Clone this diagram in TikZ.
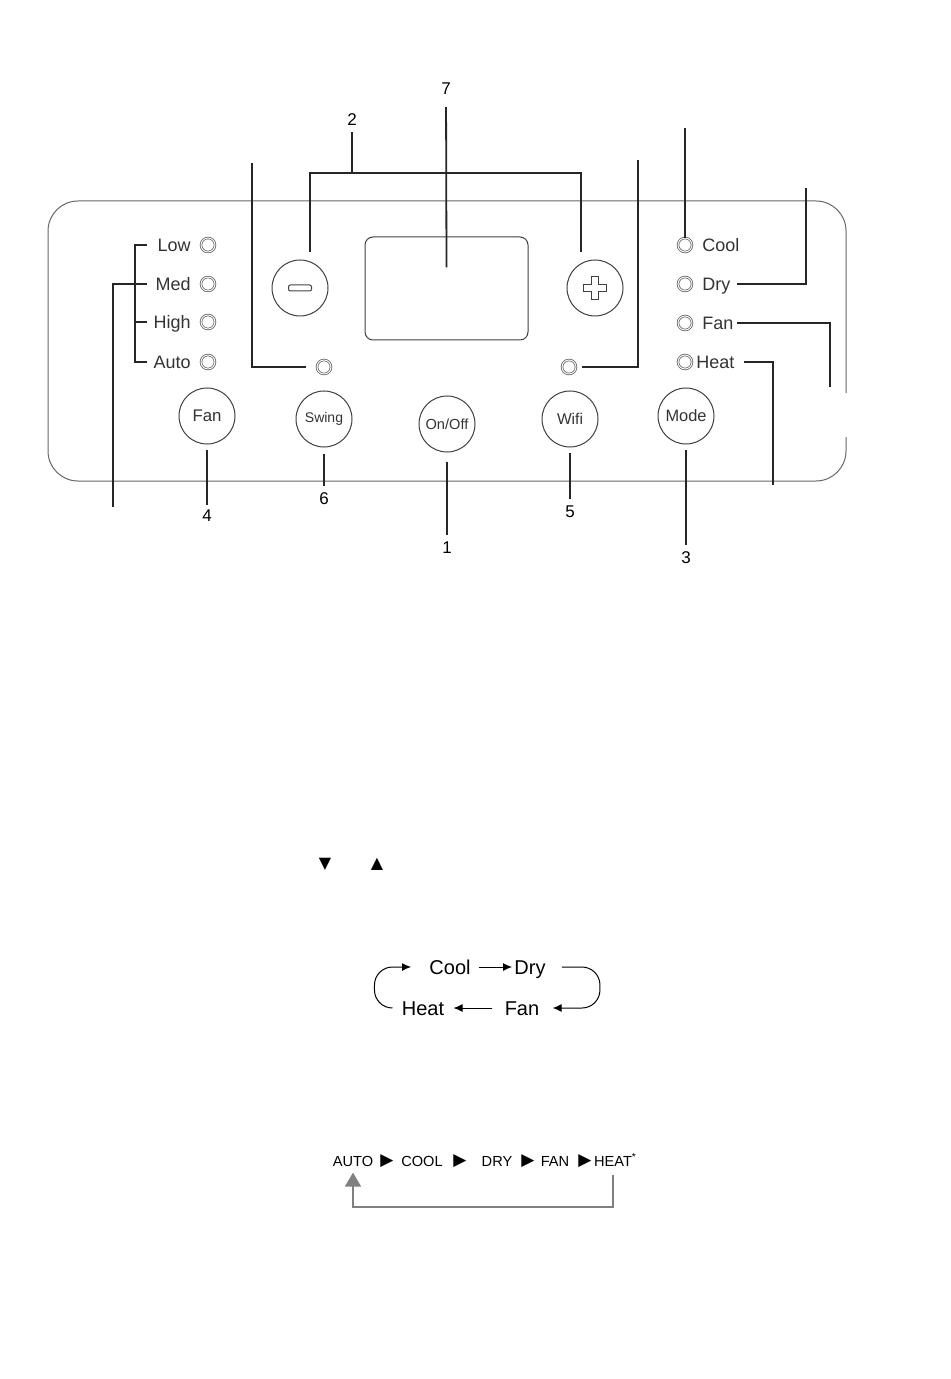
\documentclass[tikz,border=0pt]{standalone}
\usepackage{fontspec}
\setmainfont{Liberation Sans}
\newfontfamily\symfont{DejaVu Sans}
\usetikzlibrary{calc, arrows.meta}
\tikzstyle{panel}    = [draw=black!60, line width=0.5pt]
\tikzstyle{leader}   = [line width=0.9pt, draw=black!85]
\tikzstyle{button}   = [circle, draw=black!75, line width=0.5pt, minimum size=28pt, inner sep=0pt, text=black!80]
\tikzstyle{led}      = [circle, draw=black!60, line width=0.4pt, double, double distance=0.45pt, minimum size=7pt, inner sep=0pt]
\tikzstyle{ledtext}  = [text=black!80, font=\fontsize{9}{10}\selectfont, inner sep=0pt, text height=6.5pt, text depth=0pt]
\tikzstyle{num}      = [font=\fontsize{8.5}{10}\selectfont, inner sep=0pt]
\tikzstyle{word}     = [font=\fontsize{10}{12}\selectfont, inner sep=1pt, text height=7.2pt, text depth=0pt]
\tikzstyle{caps}     = [font=\fontsize{7.3}{9}\selectfont, inner sep=0pt, text height=5.2pt, text depth=0pt]
\tikzstyle{tri}      = [font=\symfont\fontsize{8.5}{9}\selectfont, inner sep=0pt]
\tikzstyle{arrow}    = [line width=0.5pt, -{Latex[length=4.5pt,width=4pt]}]
\tikzstyle{back}     = [line width=0.8pt, draw=black!50, color=black!50, -{Triangle[length=7pt,width=8pt]}]

\begin{document}
\begin{tikzpicture}[x=0.5pt, y=-0.5pt]
  \useasboundingbox (0,0) rectangle (950,1379);

  % panel outline, open on the right
  \draw[panel, rounded corners=15pt] (846,393) -- (846,201) -- (48,201) -- (48,481) -- (846,481) -- (846,437);

  % display
  \node[draw=black!75, line width=0.5pt, rounded corners=4pt, minimum width=81.5pt, minimum height=51.5pt] (display) at (446.5,288.5) {};

  % buttons
  \node[button, font=\fontsize{8.4}{9}\selectfont] (fanbtn) at (207,416) {Fan};
  \node[button, font=\fontsize{7}{8}\selectfont] (swingbtn) at (324,419) {Swing};
  \node[button, font=\fontsize{7.3}{8}\selectfont] (powerbtn) at (447,424) {On/Off};
  \node[button, font=\fontsize{7.8}{8}\selectfont] (wifibtn) at (570,419) {Wifi};
  \node[button, font=\fontsize{8.2}{9}\selectfont] (modebtn) at (686,416) {Mode};
  \node[button] (minus) at (300,288) {};
  \node[button] (plus) at (595,288) {};
  \draw[black!75, line width=0.5pt, rounded corners=1pt, shift={(minus.center)}] (-11.5,-3) rectangle (11.5,3);
  \draw[black!75, line width=0.5pt, shift={(plus.center)}] (-3.5,-11.5) -- (3.5,-11.5) -- (3.5,-3.5) -- (11.5,-3.5) -- (11.5,3.5) -- (3.5,3.5)
        -- (3.5,11.5) -- (-3.5,11.5) -- (-3.5,3.5) -- (-11.5,3.5) -- (-11.5,-3.5) -- (-3.5,-3.5) -- cycle;

  % LEDs
  \foreach \name/\y in {Low/245, Med/284, High/322, Auto/362} {
    \node[led] (speed\name) at (208,\y) {};
    \node[ledtext, anchor=east] (speed\name txt) at (191,\y) {\name};
    \coordinate (speed\name tick) at (147,\y);
  }
  \foreach \name/\y in {Cool/245, Dry/284, Fan/323} {
    \node[led] (mode\name) at (685,\y) {};
    \node[ledtext, anchor=west] (mode\name txt) at (702,\y) {\name};
  }
  \node[led] (modeHeat) at (685,362) {};
  \node[ledtext, anchor=west] (modeHeattxt) at (696,362) {Heat};
  \node[led] (swingled) at (324,367) {};
  \node[led] (wifiled) at (569,367) {};

  % numbers
  \node[num] (n1) at (447,548) {1};
  \node[num] (n2) at (352,120) {2};
  \node[num] (n3) at (686,558) {3};
  \node[num] (n4) at (207,516) {4};
  \node[num] (n5) at (570,512) {5};
  \node[num] (n6) at (324,499) {6};
  \node[num] (n7) at (446,89) {7};

  % leaders to the numbers
  \draw[leader, shorten <=2.5pt, shorten >=2.5pt] (fanbtn) -- (n4);
  \draw[leader, shorten <=3pt, shorten >=3.5pt] (swingbtn) -- (n6);
  \draw[leader, shorten <=4.5pt, shorten >=3.5pt] (powerbtn) -- (n1);
  \draw[leader, shorten <=2.5pt, shorten >=3.5pt] (wifibtn) -- (n5);
  \draw[leader, shorten <=2.5pt, shorten >=3.5pt] (modebtn) -- (n3);
  \coordinate (twobar) at (352,173);
  \draw[leader, shorten >=3pt] (twobar) -- (n2);
  \draw[leader] ([xshift=5pt, yshift=3.5pt]minus.north) |- (twobar) -| ([xshift=-7pt, yshift=3.5pt]plus.north);
  \draw[leader, shorten >=6pt] ([yshift=10.5pt]display.center) -- (n7);

  % leaders running off the panel
  \coordinate (swingtop) at (252,163);
  \draw[leader, shorten >=5.5pt] (swingtop) |- (swingled);
  \coordinate (wifitop) at (638,160);
  \draw[leader, shorten >=3pt] (wifitop) |- (wifiled);
  \coordinate (speedlead) at (113,507);
  \draw[leader] (speedLowtick) -- ++(-12,0) |- (speedAutotick);
  \draw[leader] (speedMedtick) -- ++(-12,0) (speedHightick) -- ++(-12,0);
  \draw[leader] (speedlead) |- ([xshift=-6pt]speedMedtick);
  \coordinate (cooltop) at (685,128);
  \draw[leader] (modeCool) -- (cooltop);
  \coordinate (drytop) at (806,188);
  \draw[leader, shorten <=3pt] (modeDrytxt) -| (drytop);
  \coordinate (fanend) at (830,387);
  \draw[leader, shorten <=1.5pt] (modeFantxt) -| (fanend);
  \coordinate (heatend) at (773,485);
  \draw[leader, shorten <=4.5pt] (modeHeattxt) -| (heatend);

  % arrow keys
  \node[font=\symfont\fontsize{8}{9}\selectfont, inner sep=0pt] (downkey) at (325,864) {▼};
  \node[font=\symfont\fontsize{8}{9}\selectfont, inner sep=0pt] (upkey) at (377,864) {▲};

  % mode cycle
  \node[word] (cool) at (450,967) {Cool};
  \node[word] (dry) at (530,967) {Dry};
  \node[word] (heat) at (423,1008) {Heat};
  \node[word] (fanw) at (522,1008) {Fan};
  \draw[arrow, shorten <=3pt] (cool) -- (dry);
  \draw[arrow, rounded corners=9pt] ([xshift=7pt]dry.east) -- ++(38,0) |- ([xshift=5.5pt]fanw.east);
  \draw[arrow, shorten <=5pt, shorten >=3.5pt] (fanw) -- (heat);
  \draw[arrow, rounded corners=9pt] ([xshift=-3.5pt]heat.west) -- ++(-18,0) |- ([xshift=-8pt]cool.west);

  % mode order
  \node[caps] (autocap) at (353,1161) {AUTO};
  \node[tri] (t1) at (387,1161) {▶};
  \node[caps] (coolcap) at (422,1161) {COOL};
  \node[tri] (t2) at (460,1161) {▶};
  \node[caps] (drycap) at (497,1161) {DRY};
  \node[tri] (t3) at (528,1161) {▶};
  \node[caps] (fancap) at (555,1161) {FAN};
  \node[tri] (t4) at (585,1161) {▶};
  \node[caps] (heatcap) at (613,1161) {HEAT\rlap{\textsuperscript{*}}};
  \coordinate (loopbottom) at (480,1207);
  \draw[back] ([yshift=-4pt]heatcap.south) |- (loopbottom) -| ([yshift=-3pt]autocap.south);
\end{tikzpicture}
\end{document}
